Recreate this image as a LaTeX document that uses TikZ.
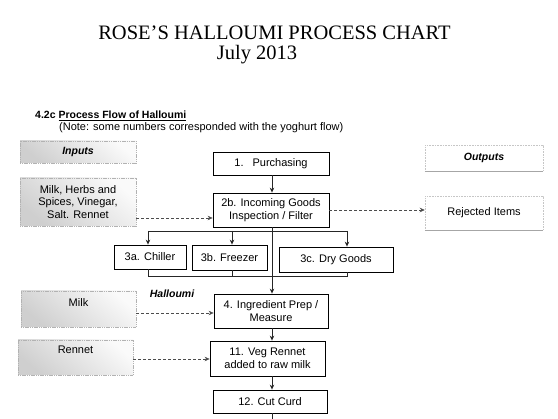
\documentclass[tikz,border=0pt]{standalone}
\usepackage{fontspec}
\setmainfont{Liberation Serif}
\setsansfont{Liberation Sans}
\usetikzlibrary{arrows.meta,calc}
\begin{document}
\begin{tikzpicture}[x=1pt,y=-1pt,
  box/.style={draw=black, line width=0.8pt, fill=white, inner sep=0pt, align=center,
    font=\sffamily\fontsize{11}{12.5}\selectfont},
  inbox/.style={draw=gray!60, line width=0.5pt, dash pattern=on 1.2pt off 0.6pt,
    top color=gray!4, bottom color=gray!38, shading angle=-40, inner sep=0pt, align=center,
    font=\sffamily\fontsize{11}{12.5}\selectfont},
  outbox/.style={draw=gray!45, line width=0.5pt, dash pattern=on 0.8pt off 0.8pt, inner sep=0pt,
    align=center, font=\sffamily\fontsize{11}{12.5}\selectfont},
  conn/.style={draw=black!85, line width=0.7pt},
  arr/.style={-{Stealth[length=5pt,width=4.5pt]}},
  dconn/.style={draw=black!70, line width=0.6pt, dash pattern=on 3pt off 2pt,
    -{Stealth[length=5pt,width=4.5pt]}},
  lbl/.style={inner sep=0pt, font=\sffamily\bfseries\itshape\fontsize{10.5}{12}\selectfont}
]
\useasboundingbox[fill=white] (0,0) rectangle (558,419);

% titles
\node[inner sep=0pt, anchor=base, font=\fontsize{20.5}{24}\selectfont] (title) at (274.5,40) {ROSE'S HALLOUMI PROCESS CHART};
\node[inner sep=0pt, anchor=base, font=\fontsize{20.5}{24}\selectfont] (date) at (257,60) {July 2013};
\node[inner sep=0pt, anchor=base west, font=\sffamily\bfseries\fontsize{10.5}{12}\selectfont] (head) at (35,119) {4.2c \underline{Process Flow of Halloumi}};
\node[inner sep=0pt, anchor=base west, font=\sffamily\fontsize{11}{12}\selectfont] (note) at (59,131) {(Note: some numbers corresponded with the yoghurt flow)};

% input / output boxes
\node[inbox, minimum width=116pt, minimum height=22pt, font=\sffamily\bfseries\itshape\fontsize{10.5}{12}\selectfont] (inputs) at (78,152) {Inputs};
\node[inbox, minimum width=116pt, minimum height=48pt] (mh) at (78,202) {Milk, Herbs and\\Spices, Vinegar,\\Salt. Rennet};
\node[outbox, minimum width=118pt, minimum height=26pt, font=\sffamily\bfseries\itshape\fontsize{10.5}{12}\selectfont] (outputs) at (484,158) {Outputs};
\node[outbox, minimum width=118pt, minimum height=34pt] (rej) at (484,213) {Rejected Items};
\draw[gray!70, line width=0.6pt] (outputs.south west) -- (outputs.south east);
\draw[gray!70, line width=0.6pt] (rej.south west) -- (rej.south east);

% process boxes
\node[box, minimum width=116pt, minimum height=23pt] (purch) at (271,163.5) {1.\hspace{9pt}Purchasing};
\node[box, minimum width=116pt, minimum height=34pt] (b2) at (271,210) {2b. Incoming Goods\\Inspection / Filter};
\node[box, minimum width=72pt, minimum height=24pt] (c3a) at (150,257) {3a. Chiller};
\node[box, minimum width=75pt, minimum height=25pt] (c3b) at (229.5,257.5) {3b. Freezer};
\node[box, minimum width=114pt, minimum height=25pt] (c3c) at (336,259.5) {3c. Dry Goods};
\node[lbl] (hal) at (172,294) {Halloumi};
\node[inbox, minimum width=115pt, minimum height=36pt, text height=16pt, text depth=20pt] (milk) at (78.5,309) {Milk};
\node[box, minimum width=114pt, minimum height=34pt] (b4) at (271,311) {4. Ingredient Prep /\\Measure};
\node[inbox, minimum width=115pt, minimum height=35pt, text height=14pt, text depth=21pt] (rennet) at (75.5,357.5) {Rennet};
\node[box, minimum width=115pt, minimum height=35pt] (b11) at (267.5,358.5) {11. Veg Rennet\\added to raw milk};
\node[box, minimum width=114pt, minimum height=23pt] (b12) at (270,401.5) {12. Cut Curd};

% helper coordinates
\coordinate (tx) at (272,0);
\coordinate (xa) at (148,0);
\coordinate (xb) at (232,0);
\coordinate (xc) at (347,0);
\coordinate (dl) at (0,231);
\coordinate (cl) at (0,276);
\coordinate (endp) at (272,425);

% main flow
\draw[conn,arr] (purch.south -| tx) -- (b2.north -| tx);
\draw[conn,arr] (b2.south -| tx) -- (b4.north -| tx);
\draw[conn] (xa |- dl) -- (xc |- dl);
\draw[conn,arr] (xa |- dl) -- (xa |- c3a.north);
\draw[conn,arr] (xb |- dl) -- (xb |- c3b.north);
\draw[conn,arr] (xc |- dl) -- (xc |- c3c.north);
\draw[conn] (xa |- c3a.south) -- (xa |- cl) -- (xc |- cl) -- (xc |- c3c.south);
\draw[conn] (xb |- c3b.south) -- (xb |- cl);
\draw[conn,arr] (b4.south -| tx) -- (b11.north -| tx);
\draw[conn,arr] (b11.south -| tx) -- (b12.north -| tx);
\draw[conn,arr] (b12.south -| tx) -- (endp);

% dashed inputs / outputs
\draw[dconn] ([yshift=-16pt]mh.east) -- ([yshift=-16pt]mh.east -| b2.west);
\draw[dconn] (b2.east) -- (b2.east -| rej.west);
\draw[dconn] ([yshift=-4pt]milk.east) -- ([yshift=-4pt]milk.east -| b4.west);
\draw[dconn] ([yshift=-1.5pt]rennet.east) -- ([yshift=-1.5pt]rennet.east -| b11.west);
\end{tikzpicture}
\end{document}
